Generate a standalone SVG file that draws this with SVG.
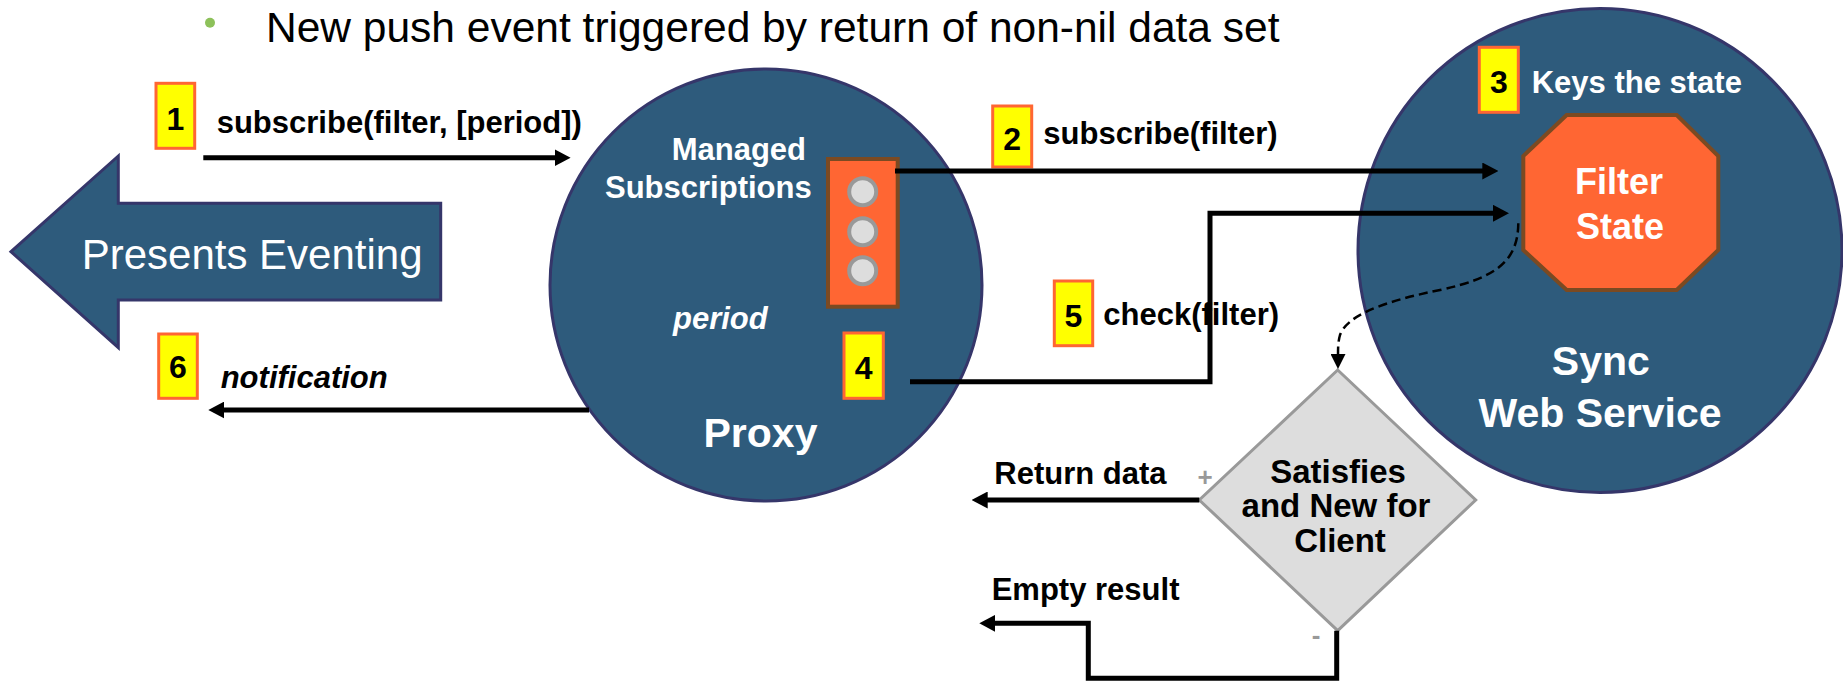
<svg xmlns="http://www.w3.org/2000/svg" width="1843" height="682" viewBox="0 0 1843 682">
<style>
text{font-family:"Liberation Sans",Arial,sans-serif}
.box{fill:#FFFF00;stroke:#FF6633;stroke-width:3}
.num{font-weight:bold;font-size:32px;fill:#000;text-anchor:middle}
.lbl{font-weight:bold;font-size:31px;fill:#000}
.wl{font-weight:bold;font-size:31px;fill:#fff}
.wbig{font-weight:bold;font-size:41px;fill:#fff;text-anchor:middle}
.node{fill:#2E5B7C;stroke:#35366A;stroke-width:3}
.orange{fill:#FF6633;stroke:#7B4A22;stroke-width:4}
.slot{fill:#DDDDDD;stroke:#999999;stroke-width:4}
.conn{fill:none;stroke:#000;stroke-width:5}
.sign{font-weight:bold;font-size:26px;fill:#999;text-anchor:middle}
</style>
<defs>
<marker id="ah" markerUnits="userSpaceOnUse" markerWidth="16" markerHeight="17" refX="4" refY="8.5" orient="auto"><path d="M0,0 L16,8.5 L0,17 z" fill="#000"/></marker>
<marker id="ahs" markerUnits="userSpaceOnUse" markerWidth="15" markerHeight="15" refX="3" refY="7.5" orient="auto"><path d="M0,0 L15,7.5 L0,15 z" fill="#000"/></marker>
</defs>
<rect width="1843" height="682" fill="#fff"/>
<g id="title">
<circle cx="210" cy="22.7" r="5" fill="#8DC15A"/>
<text x="266" y="41.7" font-size="42.5" fill="#000">New push event triggered by return of non-nil data set</text>
</g>
<g id="presents-eventing">
<polygon class="node" points="11,251.7 118.3,156 118.3,203.3 440.7,203.3 440.7,300 118.3,300 118.3,347.7"/>
<text x="81.7" y="269" font-size="42" fill="#fff">Presents Eventing</text>
</g>
<g id="proxy">
<circle class="node" cx="766" cy="285" r="216"/>
<text class="wl" x="671.7" y="160">Managed</text>
<text class="wl" x="605" y="198.3">Subscriptions</text>
<rect class="orange" x="828" y="159" width="69.7" height="147.7"/>
<circle class="slot" cx="862.7" cy="191.7" r="13.5"/>
<circle class="slot" cx="862.7" cy="231.7" r="13.5"/>
<circle class="slot" cx="862.7" cy="270.7" r="13.5"/>
<text class="wl" x="673" y="329" font-style="italic">period</text>
<text class="wbig" x="760.5" y="446.7">Proxy</text>
</g>
<g id="sync-web-service">
<circle class="node" cx="1600" cy="250.5" r="242"/>
<polygon class="orange" points="1566.7,115 1676.7,115 1718.3,156 1718.3,250 1676.7,290 1566.7,290 1523.3,250 1523.3,156"/>
<text x="1619" y="194.3" font-size="36" font-weight="bold" fill="#fff" text-anchor="middle">Filter</text>
<text x="1620" y="239" font-size="36" font-weight="bold" fill="#fff" text-anchor="middle">State</text>
<text class="wl" x="1531.7" y="93.3">Keys the state</text>
<text class="wbig" x="1600.8" y="375">Sync</text>
<text class="wbig" x="1600" y="426.7">Web Service</text>
</g>
<g id="decision">
<polygon points="1337.7,370 1475.7,500 1337.7,630.7 1199.3,500" fill="#DDDDDD" stroke="#999999" stroke-width="3"/>
<text x="1338" y="483.3" font-size="33" font-weight="bold" fill="#000" text-anchor="middle">Satisfies</text>
<text x="1336" y="516.7" font-size="33" font-weight="bold" fill="#000" text-anchor="middle">and New for</text>
<text x="1340" y="551.7" font-size="33" font-weight="bold" fill="#000" text-anchor="middle">Client</text>
<text class="sign" x="1205" y="486">+</text>
<text class="sign" x="1316" y="644">-</text>
</g>
<g id="step1">
<rect class="box" x="156" y="83.3" width="38.7" height="65"/>
<text class="num" x="175.3" y="130">1</text>
<text class="lbl" x="216.7" y="133.3">subscribe(filter, [period])</text>
</g>
<g id="step2">
<rect class="box" x="992.7" y="106" width="39" height="61"/>
<text class="num" x="1012.2" y="150">2</text>
<text class="lbl" x="1043.3" y="144">subscribe(filter)</text>
</g>
<g id="step3">
<rect class="box" x="1479.3" y="47.3" width="39" height="65"/>
<text class="num" x="1498.8" y="92.7">3</text>
</g>
<g id="step4">
<rect class="box" x="844" y="333" width="39.3" height="65.3"/>
<text class="num" x="863.7" y="379.3">4</text>
</g>
<g id="step5">
<rect class="box" x="1054.3" y="281" width="38.4" height="64.7"/>
<text class="num" x="1073.5" y="326.7">5</text>
<text class="lbl" x="1103.3" y="325">check(filter)</text>
</g>
<g id="step6">
<rect class="box" x="158.7" y="334" width="38.6" height="64.3"/>
<text class="num" x="178" y="378.3">6</text>
<text class="lbl" x="220.7" y="388.3" font-style="italic">notification</text>
</g>
<g id="labels">
<text class="lbl" x="994.3" y="484">Return data</text>
<text class="lbl" x="991.7" y="600">Empty result</text>
</g>
<g id="connectors">
<path class="conn" d="M203.3,157.7 H558.6" marker-end="url(#ah)"/>
<path class="conn" d="M589,410 H220.3" marker-end="url(#ah)"/>
<path class="conn" d="M895,171 H1486.3" marker-end="url(#ah)"/>
<path class="conn" d="M910,381.7 H1210 V213.3 H1497" marker-end="url(#ah)"/>
<path class="conn" d="M1199.3,500 H983.7" marker-end="url(#ah)"/>
<path class="conn" d="M1336.7,630.7 V678.3 H1088.3 V623.3 H991.3" marker-end="url(#ah)"/>
<path d="M1518.3,223.3 C1518,262 1495,278 1440,290 C1375,303 1346,318 1340,335 C1338,342 1338,348 1338,357" fill="none" stroke="#000" stroke-width="2.5" stroke-dasharray="9,5" marker-end="url(#ahs)"/>
</g>
</svg>
